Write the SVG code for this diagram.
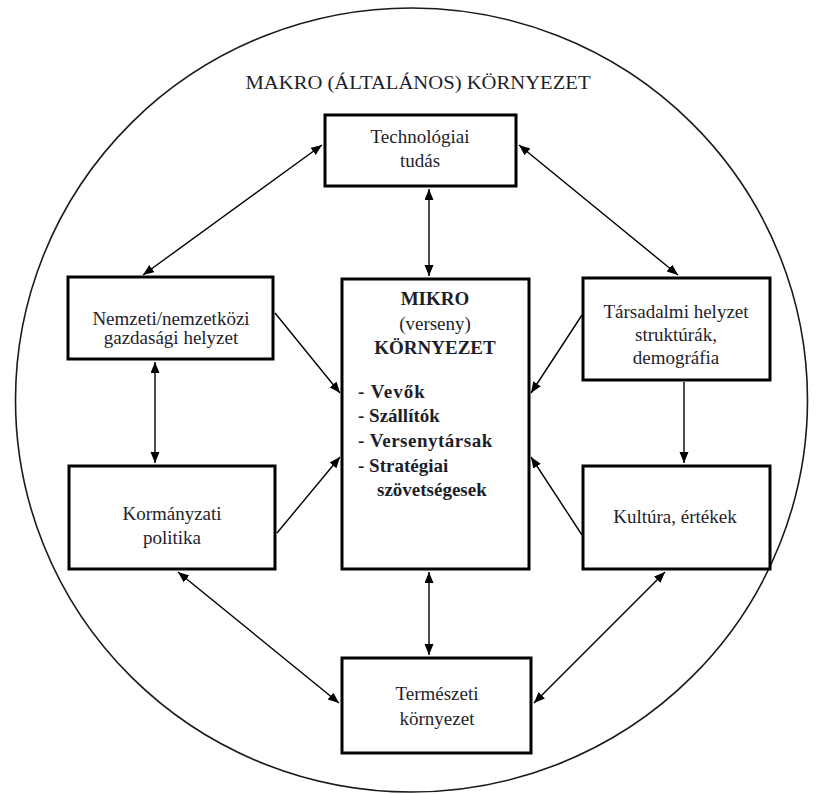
<svg xmlns="http://www.w3.org/2000/svg" width="823" height="794" viewBox="0 0 823 794">
  <defs>
    <style>
      .box { fill: #ffffff; stroke: #000000; stroke-width: 3; }
      .lbl { font-family: Liberation Serif, Tinos, Times New Roman, Times, DejaVu Serif, Noto Serif, serif; font-size: 19px; fill: #1e1e2a; text-anchor: middle; }
      .bold { font-weight: bold; }
      .list { text-anchor: start; }
      .edge { stroke: #000000; stroke-width: 1.4; fill: none; }
      .one { marker-end: url(#tip); }
      .two { marker-start: url(#tip); marker-end: url(#tip); }
    </style>
    <marker id="tip" markerUnits="userSpaceOnUse" markerWidth="12" markerHeight="10" refX="11" refY="4.5" orient="auto-start-reverse">
      <path d="M0,0 L11,4.5 L0,9 Z" fill="#000000"/>
    </marker>
  </defs>

  <rect width="823" height="794" fill="#ffffff"/>

  <!-- outer environment boundary -->
  <g id="makro">
    <ellipse cx="411.5" cy="400" rx="396" ry="392" fill="none" stroke="#1a1a1a" stroke-width="1.6"/>
    <text class="lbl" x="418" y="89" font-size="20" textLength="345" lengthAdjust="spacingAndGlyphs">MAKRO (ÁLTALÁNOS) KÖRNYEZET</text>
  </g>

  <!-- connectors -->
  <g id="connectors">
    <line class="edge two" x1="429" y1="189" x2="429" y2="276"/>
    <line class="edge two" x1="429" y1="572" x2="429" y2="655"/>
    <line class="edge two" x1="322" y1="145" x2="143" y2="275"/>
    <line class="edge two" x1="519" y1="145" x2="678" y2="275"/>
    <line class="edge one" x1="275" y1="313" x2="340" y2="393"/>
    <line class="edge one" x1="277" y1="533" x2="340" y2="457"/>
    <line class="edge one" x1="582" y1="315" x2="531" y2="393"/>
    <line class="edge one" x1="582" y1="535" x2="531" y2="457"/>
    <line class="edge two" x1="155" y1="362" x2="155" y2="463"/>
    <line class="edge one" x1="684" y1="382" x2="684" y2="463"/>
    <line class="edge two" x1="178" y1="572" x2="339" y2="703"/>
    <line class="edge two" x1="665" y1="572" x2="534" y2="703"/>
  </g>

  <g id="technologia">
    <rect class="box" x="325" y="115" width="191" height="71"/>
    <text class="lbl" x="420" y="143">Technológiai</text>
    <text class="lbl" x="420" y="167">tudás</text>
  </g>

  <g id="gazdasag">
    <rect class="box" x="68" y="277" width="205" height="82"/>
    <text class="lbl" x="171" y="325">Nemzeti/nemzetközi</text>
    <text class="lbl" x="171" y="344">gazdasági helyzet</text>
  </g>

  <g id="mikro">
    <rect class="box" x="342" y="279" width="187" height="290"/>
    <text class="lbl bold" x="435" y="305">MIKRO</text>
    <text class="lbl" x="435" y="330">(verseny)</text>
    <text class="lbl bold" x="435" y="354">KÖRNYEZET</text>
    <text class="lbl bold list" x="358" y="398" letter-spacing="1">- Vevők</text>
    <text class="lbl bold list" x="358" y="422">- Szállítók</text>
    <text class="lbl bold list" x="358" y="447" letter-spacing="0.5">- Versenytársak</text>
    <text class="lbl bold list" x="358" y="472">- Stratégiai</text>
    <text class="lbl bold list" x="377" y="496">szövetségesek</text>
  </g>

  <g id="tarsadalom">
    <rect class="box" x="583" y="278" width="187" height="102"/>
    <text class="lbl" x="676" y="318">Társadalmi helyzet</text>
    <text class="lbl" x="676" y="341">struktúrák,</text>
    <text class="lbl" x="676" y="364">demográfia</text>
  </g>

  <g id="kormany">
    <rect class="box" x="69" y="466" width="206" height="103"/>
    <text class="lbl" x="172" y="520">Kormányzati</text>
    <text class="lbl" x="172" y="544">politika</text>
  </g>

  <g id="kultura">
    <rect class="box" x="583" y="466" width="187" height="103"/>
    <text class="lbl" x="675" y="523">Kultúra, értékek</text>
  </g>

  <g id="termeszet">
    <rect class="box" x="342" y="658" width="189" height="95"/>
    <text class="lbl" x="437" y="700">Természeti</text>
    <text class="lbl" x="437" y="725">környezet</text>
  </g>
</svg>
